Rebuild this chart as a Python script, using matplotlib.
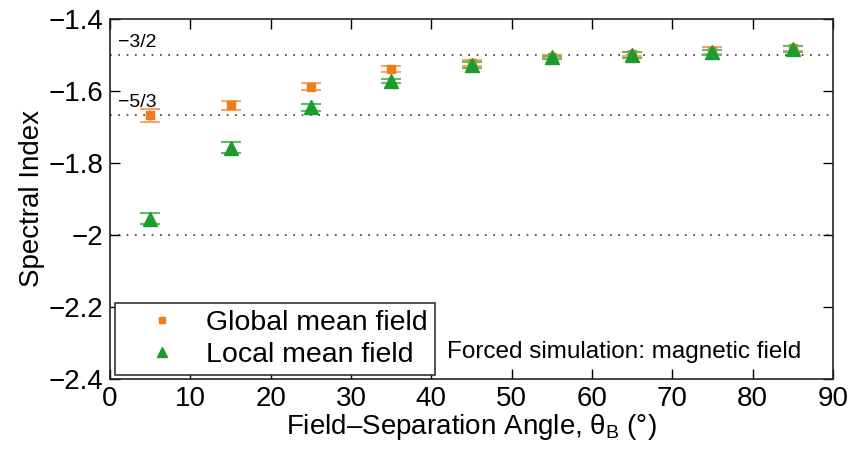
import matplotlib
matplotlib.use('Agg')
import matplotlib.pyplot as plt
from matplotlib.lines import Line2D
import numpy as np

plt.rcParams['font.family'] = ['Liberation Sans', 'DejaVu Sans']
plt.rcParams['mathtext.fontset'] = 'custom'
plt.rcParams['mathtext.rm'] = 'Liberation Sans'
plt.rcParams['mathtext.it'] = 'Liberation Sans'

angle = [5, 15, 25, 35, 45, 55, 65, 75, 85]
glob_idx = [-1.667, -1.640, -1.588, -1.540, -1.523, -1.505, -1.497, -1.488, -1.482]
glob_err = [0.018, 0.012, 0.010, 0.008, 0.008, 0.004, 0.006, 0.010, 0.006]
loc_idx = [-1.955, -1.758, -1.645, -1.572, -1.528, -1.507, -1.500, -1.493, -1.483]
loc_err = [0.015, 0.015, 0.010, 0.006, 0.008, 0.005, 0.008, 0.008, 0.008]

ref_lines = [-1.5, -5/3, -2.0]
ref_labels = ['\u22123/2', '\u22125/3']

orange = '#ef7d1a'
green = '#1e9a2e'

fig = plt.figure(figsize=(8.63, 4.5), dpi=100)
ax = fig.add_axes([0.1275, 0.158, 0.8377, 0.8])

for y in ref_lines:
    ax.axhline(y, color='#333333', ls=(0, (1, 4)), lw=1.2, zorder=1)
ax.text(1.0, -1.5 + 0.012, ref_labels[0], fontsize=14, va='bottom', ha='left')
ax.text(1.0, -5/3 + 0.012, ref_labels[1], fontsize=14, va='bottom', ha='left')

ax.errorbar(angle, glob_idx, yerr=glob_err, fmt='s', color=orange, ms=6,
            ecolor='#f5a866', elinewidth=1.2, capsize=7, capthick=1.5, zorder=3)
ax.errorbar(angle, loc_idx, yerr=loc_err, fmt='^', color=green, ms=10,
            ecolor='#5cbf68', elinewidth=1.2, capsize=7, capthick=1.5, zorder=4)

ax.set_xlim(0, 90)
ax.set_ylim(-2.4, -1.4)
ax.set_xticks(np.arange(0, 91, 10))
ax.set_yticks([-2.4, -2.2, -2.0, -1.8, -1.6, -1.4])
ax.set_yticklabels(['\u22122.4', '\u22122.2', '\u22122', '\u22121.8', '\u22121.6', '\u22121.4'])
ax.tick_params(direction='in', top=True, right=True, length=7, labelsize=20, width=1, pad=5)
for s in ax.spines.values():
    s.set_linewidth(1.2)
    s.set_color('#222222')

ax.set_xlabel('Field\u2013Separation Angle, $\\theta_B$ (\u00b0)', fontsize=20, labelpad=0)
ax.set_ylabel('Spectral Index', fontsize=20, labelpad=2)

handles = [Line2D([], [], ls='none', marker='s', color=orange, ms=4),
           Line2D([], [], ls='none', marker='^', color=green, ms=7)]
leg = ax.legend(handles, ['Global mean field', 'Local mean field'],
                loc='lower left', bbox_to_anchor=(0.007, 0.011), borderaxespad=0,
                fontsize=20.5, handlelength=2.8, fancybox=False, edgecolor='#333333',
                framealpha=1, handletextpad=0.15, labelspacing=0.2, borderpad=0.25)
leg.get_frame().set_linewidth(1.2)

ax.text(0.466, 0.075, 'Forced simulation: magnetic field', transform=ax.transAxes,
        fontsize=17.5, ha='left', va='center')

fig.savefig('out.png', dpi=100)
